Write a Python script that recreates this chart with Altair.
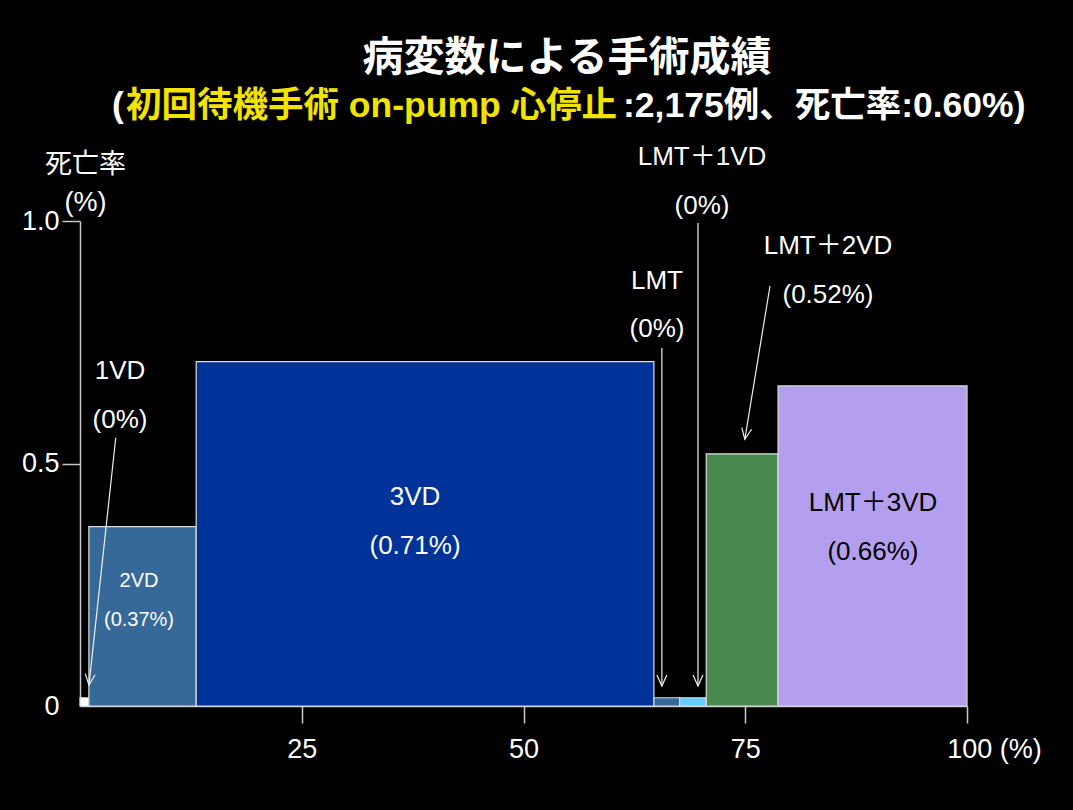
import altair as alt
import pandas as pd

# ---- data ----
categories = ["1VD", "2VD", "3VD", "LMT", "LMT＋1VD", "LMT＋2VD", "LMT＋3VD"]
case_share = [1.0, 12.1, 51.6, 2.9, 3.0, 8.1, 21.3]          # % of 2,175 cases (bar widths)
mortality = [0.0, 0.37, 0.71, 0.0, 0.0, 0.52, 0.66]          # mortality rate %
bar_colors = ["#ffffff", "#366898", "#003399", "#366898", "#66ccff", "#4a8a4e", "#b49eee"]
zero_bar_height = 0.017                                       # minimal visible height for 0% groups

x_ticks = [25, 50, 75, 100]
y_ticks = [0, 0.5, 1.0]

# annotation labels (data coordinates)
label_text = ["2VD", "(0.37%)", "3VD", "(0.71%)", "LMT＋3VD", "(0.66%)",
              "1VD", "(0%)", "LMT", "(0%)", "LMT＋1VD", "(0%)", "LMT＋2VD", "(0.52%)"]
label_x = [6.65, 6.65, 37.77, 37.77, 89.4, 89.4,
           4.51, 4.51, 65.05, 65.05, 70.12, 70.12, 84.33, 84.33]
label_y = [0.258, 0.177, 0.431, 0.330, 0.419, 0.318,
           0.691, 0.590, 0.876, 0.777, 1.132, 1.031, 0.948, 0.847]
label_style = ["small", "small", "white", "white", "black", "black",
               "white", "white", "white", "white", "white", "white", "white", "white"]

# arrows (data coordinates)
arrow_x = [4.03, 65.6, 69.67, 77.79]
arrow_y = [0.553, 0.738, 0.996, 0.866]
arrow_tip_x = [1.01, 65.6, 69.67, 74.95]
arrow_tip_y = [0.043, 0.041, 0.041, 0.55]
arrow_angle = [6.2, 0, 0, 9.9]

FONT = "Liberation Sans, Arial, Noto Sans CJK JP"
AXIS_GRAY = "#c8c8c8"

# ---- tables ----
x_end = []
acc = 0.0
for s in case_share:
    acc += s
    x_end.append(acc)
x_start = [e - s for e, s in zip(x_end, case_share)]
bars_df = pd.DataFrame({
    "cat": categories,
    "x": x_start,
    "x2": x_end,
    "y": [0.0] * len(categories),
    "rate": mortality,
})

labels_df = pd.DataFrame({"text": label_text, "x": label_x, "y": label_y, "style": label_style})
arrows_df = pd.DataFrame({"x": arrow_x, "y": arrow_y, "x2": arrow_tip_x, "y2": arrow_tip_y})
heads_df = pd.DataFrame({"x": arrow_tip_x, "y": arrow_tip_y, "angle": arrow_angle})

x_scale = alt.Scale(domain=[0, 100], nice=False, zero=True)
y_scale = alt.Scale(domain=[0, 1.0], nice=False, zero=True)

bars = alt.Chart(bars_df).transform_calculate(
    y2=f"max(datum.rate, {zero_bar_height})"
).mark_rect(stroke="#dcdcdc", strokeWidth=1.2).encode(
    x=alt.X("x:Q", scale=x_scale, axis=alt.Axis(
        values=x_ticks, title=None, grid=False, labelFlush=False,
        labelExpr="datum.value == 100 ? '100 (%)' : datum.label",
        labelOffset={"condition": {"test": "datum.value == 100", "value": 27}, "value": 0},
        tickSize=17, tickWidth=1.5, tickColor=AXIS_GRAY,
        domainColor=AXIS_GRAY, domainWidth=1.5,
        labelFontSize=27, labelColor="white", labelFont=FONT, labelPadding=13,
    )),
    x2="x2:Q",
    y=alt.Y("y:Q", scale=y_scale, axis=alt.Axis(
        values=y_ticks, grid=False,
        labelExpr="datum.value == 0 ? '0' : format(datum.value, '.1f')",
        tickSize=18, tickWidth=1.5, tickColor=AXIS_GRAY,
        tickOpacity={"condition": {"test": "datum.value == 0", "value": 0}, "value": 1},
        domainColor=AXIS_GRAY, domainWidth=1.5,
        labelFontSize=27, labelColor="white", labelFont=FONT, labelPadding=3,
        title=["死亡率", "(%)"], titleAngle=0, titleX=5, titleY=-70,
        titleAlign="center", titleBaseline="top", titleFontSize=27,
        titleFontWeight="normal", titleColor="white", titleFont=FONT, titleLineHeight=38,
    )),
    y2="y2:Q",
    color=alt.Color("cat:N", scale=alt.Scale(domain=categories, range=bar_colors), legend=None),
)

rules = alt.Chart(arrows_df).mark_rule(color="#f0f0f0", strokeWidth=1.2).encode(
    x="x:Q", y="y:Q", x2="x2:Q", y2="y2:Q"
)

heads = alt.Chart(heads_df).mark_point(
    shape="M-0.45,-1L0,0L0.45,-1", filled=False, size=484,
    color="#f0f0f0", strokeWidth=1.2, opacity=1,
).encode(x="x:Q", y="y:Q", angle=alt.Angle("angle:Q", scale=None))


def label_layer(style, size, color):
    return alt.Chart(labels_df).transform_filter(
        alt.datum.style == style
    ).mark_text(fontSize=size, color=color, font=FONT, align="center", baseline="middle").encode(
        x="x:Q", y="y:Q", text="text:N"
    )


labels_small = label_layer("small", 20, "white")
labels_white = label_layer("white", 26, "white")
labels_black = label_layer("black", 26, "black")

# ---- titles (pixel positions relative to the plot's top-left) ----
SUB_SIZE = 35.5
title_main = alt.Chart(pd.DataFrame({"t": ["病変数による手術成績"]})).mark_text(
    fontSize=41, fontWeight="bold", color="white", font=FONT, align="center", baseline="middle"
).encode(text="t:N", x=alt.value(487), y=alt.value(-162))

sub_open = alt.Chart(pd.DataFrame({"t": ["("]})).mark_text(
    fontSize=SUB_SIZE, fontWeight="bold", color="white", font=FONT, align="left", baseline="middle"
).encode(text="t:N", x=alt.value(32), y=alt.value(-115))

sub_yellow = alt.Chart(pd.DataFrame({"t": ["初回待機手術 on-pump 心停止"]})).mark_text(
    fontSize=SUB_SIZE, fontWeight="bold", color="#f2e200", font=FONT, align="left", baseline="middle"
).encode(text="t:N", x=alt.value(46), y=alt.value(-115))

sub_white = alt.Chart(pd.DataFrame({"t": [":2,175例、死亡率:0.60%)"]})).mark_text(
    fontSize=SUB_SIZE, fontWeight="bold", color="white", font=FONT, align="left", baseline="middle"
).encode(text="t:N", x=alt.value(543), y=alt.value(-115))

chart = alt.layer(
    bars, rules, heads, labels_small, labels_white, labels_black,
    title_main, sub_open, sub_yellow, sub_white,
).properties(
    width=887, height=485,
    padding={"left": 80, "top": 221, "right": 106, "bottom": 104},
    autosize=alt.AutoSizeParams(type="none"),
).configure(
    background="black", font=FONT,
).configure_view(stroke=None)

chart.save("out.html", embed_options={"renderer": "svg", "actions": False})
